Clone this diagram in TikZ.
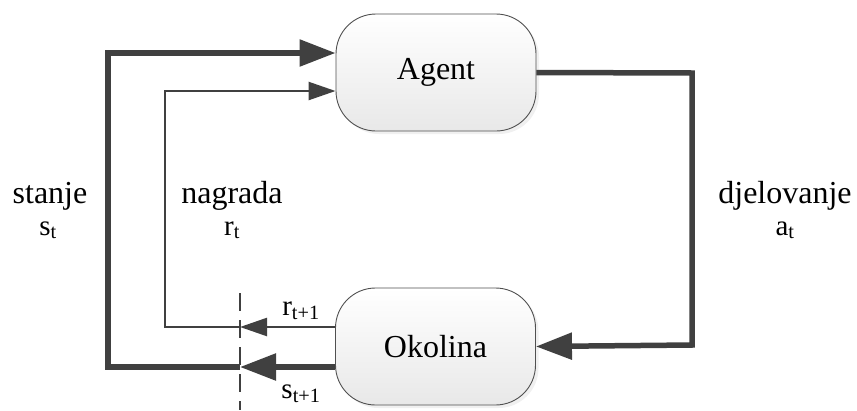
\documentclass[tikz,border=0pt]{standalone}
\usepackage{fontspec}
\setmainfont{Liberation Serif}
\usetikzlibrary{arrows.meta,shadows}
\definecolor{ln}{HTML}{404040}
\definecolor{bx}{HTML}{505050}
\tikzset{
  box/.style={draw=bx, line width=0.9pt, rounded corners=40pt, minimum width=200pt, minimum height=117pt,
    top color=white, bottom color=black!9, font=\fontsize{32}{38}\selectfont,
    drop shadow={shadow xshift=3pt, shadow yshift=-3pt, opacity=0.12}},
  thickln/.style={draw=ln, line width=5.5pt},
  thinln/.style={draw=ln, line width=2.4pt},
  bighead/.style={-{Triangle[length=36pt,width=26pt]}},
  smallhead/.style={-{Triangle[length=27pt,width=18pt]}},
  lbl/.style={font=\fontsize{32}{38}\selectfont, inner sep=0pt, anchor=base},
  sublbl/.style={font=\fontsize{29}{34}\selectfont, inner sep=0pt, anchor=base},
  dashln/.style={draw=ln, line width=2.4pt, dash pattern=on 18pt off 9pt}
}
\begin{document}
\begin{tikzpicture}[x=1pt,y=-1pt]
\useasboundingbox (0,0) rectangle (857,410);
\node[box] (ag) at (436,72.5) {Agent};
\node[box] (ok) at (435.5,346.5) {Okolina};
% corner coordinates
\coordinate (sl) at (108,367);
\coordinate (su) at (108,53);
\coordinate (rl) at (165,327);
\coordinate (ru) at (165,91);
\coordinate (ds) at (240,367);
\coordinate (dr) at (240,327);
\coordinate (aR) at (692,73);
\coordinate (aB) at (692,345);
\coordinate (dt) at (240,293);
\coordinate (db) at (240,410);
% state loop
\draw[thickln, bighead] ([yshift=-20.5pt]ok.west) -- (ds);
\draw[thickln, bighead] (ds) -- (sl) -- (su) -- ([yshift=19.5pt]ag.west);
% reward loop
\draw[thinln, smallhead] ([yshift=19.5pt]ok.west) -- (dr);
\draw[thinln, smallhead] (dr) -- (rl) -- (ru) -- ([yshift=-18.5pt]ag.west);
% action
\draw[thickln, bighead] (ag.east) -- (aR) -- (aB) -- (ok.east);
% dashed separator
\draw[dashln] (dt) -- (db);
% labels
\node[lbl] (l1) at (50,203) {stanje};
\node[sublbl] (l2) at (48,235) {s\textsubscript{t}};
\node[lbl] (l3) at (232,203) {nagrada};
\node[sublbl] (l4) at (232,235) {r\textsubscript{t}};
\node[lbl] (l5) at (785,203) {djelovanje};
\node[sublbl] (l6) at (785,235) {a\textsubscript{t}};
\node[sublbl] (l7) at (301,315) {r\textsubscript{t+1}};
\node[sublbl] (l8) at (301,398) {s\textsubscript{t+1}};
\end{tikzpicture}
\end{document}
